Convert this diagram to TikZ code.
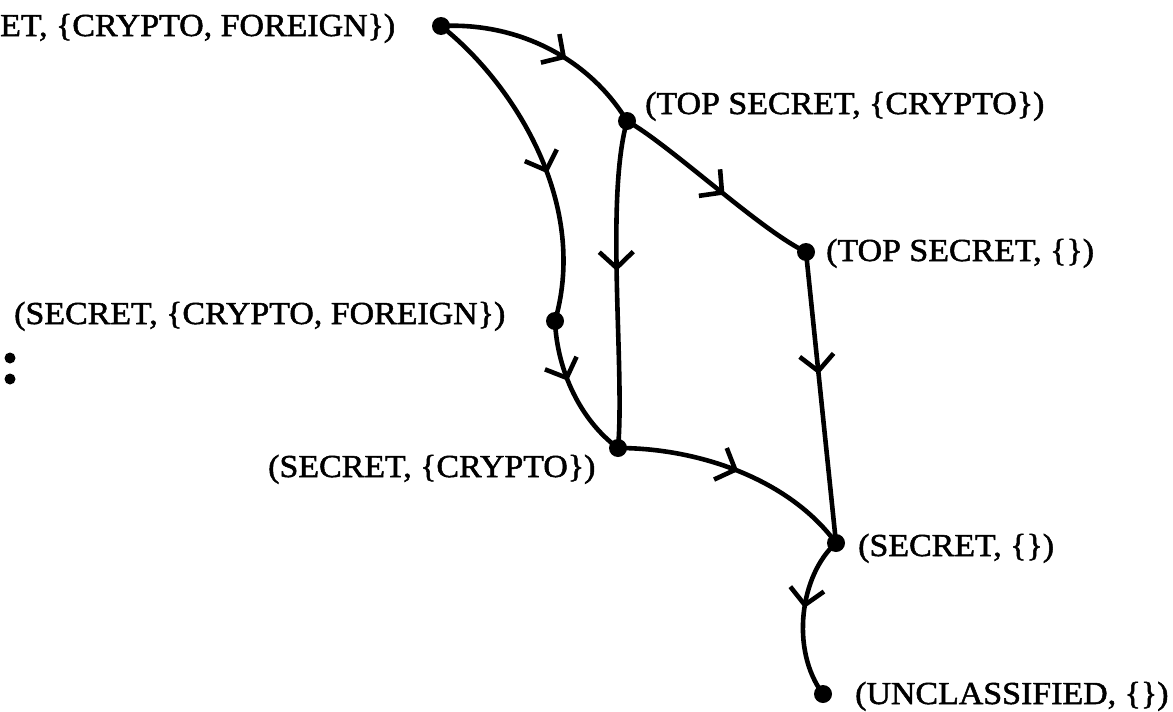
\documentclass[tikz,border=0pt]{standalone}
\usepackage{fontspec}
\setmainfont[FakeStretch=1.06,FakeBold=1.6]{Liberation Serif}
\usetikzlibrary{arrows.meta,decorations.markings}
\tikzset{
  vtx/.style={circle,fill=black,inner sep=0pt,minimum size=18pt},
  smalldot/.style={circle,fill=black,inner sep=0pt,minimum size=11pt},
  lbl/.style={anchor=base west,inner sep=0pt,font=\fontsize{32}{36}\selectfont},
  edge/.style={line width=4.6pt},
  midarr/.style={postaction={decorate,decoration={markings,
     mark=at position #1 with {\arrow{Straight Barb[length=16pt,width=34pt,line width=4.6pt]}}}}}
}
\begin{document}
\begin{tikzpicture}[x=1pt,y=-1pt]
\useasboundingbox (0,0) rectangle (1173,712);
\node[vtx] (A) at (441,26) {};
\node[vtx] (B) at (627,121) {};
\node[vtx] (C) at (806,252) {};
\node[vtx] (D) at (555,321) {};
\node[vtx] (E) at (618,448) {};
\node[vtx] (F) at (836,543) {};
\node[vtx] (G) at (823,694) {};
\node[smalldot] (d1) at (10,358) {};
\node[smalldot] (d2) at (10,379) {};

\node[lbl] (lA) at (0,36) {ET, \{CRYPTO, FOREIGN\})};
\node[lbl] (lB) at (645,114) {(TOP SECRET, \{CRYPTO\})};
\node[lbl] (lC) at (826,261) {(TOP SECRET, \{\})};
\node[lbl] (lD) at (14,324) {(SECRET, \{CRYPTO, FOREIGN\})};
\node[lbl] (lE) at (268,477) {(SECRET, \{CRYPTO\})};
\node[lbl] (lF) at (858,556) {(SECRET, \{\})};
\node[lbl] (lG) at (855,704) {(UNCLASSIFIED, \{\})};

\draw[edge,midarr=0.6] (A.center) .. controls (520,22) and (590,60) .. (B.center);
\draw[edge,midarr=0.55] (A.center) .. controls (510,80) and (590,200) .. (D.center);
\draw[edge,midarr=0.46] (B.center) .. controls (605,200) and (625,370) .. (E.center);
\draw[edge,midarr=0.55] (B.center) .. controls (670,145) and (760,230) .. (C.center);
\draw[edge,midarr=0.42] (C.center) -- (F.center);
\draw[edge,midarr=0.42] (D.center) .. controls (557,370) and (580,420) .. (E.center);
\draw[edge,midarr=0.5] (E.center) .. controls (700,448) and (790,480) .. (F.center);
\draw[edge,midarr=0.45] (F.center) .. controls (800,575) and (790,650) .. (G.center);
\end{tikzpicture}
\end{document}
